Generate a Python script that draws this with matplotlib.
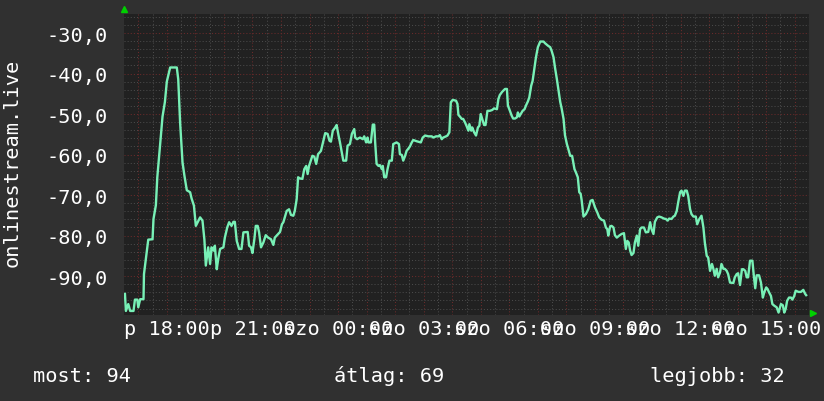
import numpy as np
import matplotlib.pyplot as plt

# minutes since friday 16:30 and rank (plotted as negative value)
t1 = [2, 4, 9, 13, 20, 23, 28, 30, 34, 41, 42, 46, 51, 60, 62, 67, 70, 76, 81, 86,
      90, 97, 111, 114, 118, 123, 127, 132, 139, 142, 147, 151, 160, 165, 169, 172, 177, 181, 184, 188,
      191, 195, 198, 202, 209, 212, 217, 221, 226, 230]
r1 = [94.4, 98.6, 96.9, 98.6, 98.6, 95.8, 95.8, 97.7, 95.7, 95.7, 89.5, 85.8, 81.0, 80.9, 75.9, 72.5, 65.6, 57.4, 50.6, 47.0,
      42.0, 38.5, 38.5, 41.4, 52.2, 61.9, 65.2, 68.8, 69.3, 70.8, 72.6, 77.6, 75.5, 76.3, 81.0, 87.4, 82.9, 87.0, 82.9, 83.7,
      82.5, 88.3, 85.8, 83.3, 82.9, 80.5, 78.0, 76.7, 77.6, 76.6]

t2 = [233, 237, 242, 247, 251, 260, 263, 267, 270, 274, 277, 281, 284, 288, 293, 298, 303, 309, 314, 317,
      324, 328, 332, 335, 338, 342, 347, 351, 356, 359, 363, 366, 370, 375, 379, 383, 386, 389, 396, 400,
      404, 408, 414, 419, 423, 428, 432, 435, 439, 444, 447, 451, 454, 458, 461, 467, 470, 475, 479, 484]
r2 = [76.6, 81.3, 83.3, 83.3, 79.2, 79.1, 82.5, 82.9, 84.3, 80.9, 77.6, 77.6, 79.2, 82.9, 81.7, 79.9, 80.5, 80.9, 82.3, 80.5,
      79.6, 79.1, 77.2, 76.7, 75.5, 73.9, 73.5, 74.9, 75.1, 73.9, 71.0, 65.6, 65.9, 66.0, 63.6, 62.8, 64.8, 62.8, 60.3, 60.5,
      62.3, 59.9, 59.1, 56.6, 54.7, 54.9, 56.6, 56.8, 54.1, 53.3, 52.7, 55.3, 57.0, 59.5, 61.5, 61.5, 57.8, 57.4, 54.9, 53.7]

t3 = [486, 490, 496, 502, 505, 509, 512, 514, 519, 523, 526, 528, 531, 535, 538, 542, 544, 547, 551, 554,
      558, 563, 566, 573, 578, 580, 584, 587, 591, 594, 598, 601, 605, 608, 615, 624, 628, 633, 640, 647,
      650, 656, 661, 664, 668, 671, 677, 680, 684, 687, 691, 698, 701, 703, 706, 710, 713, 717, 720, 724]
r3 = [55.8, 56.2, 55.8, 56.2, 55.5, 57.0, 55.8, 57.0, 57.0, 52.6, 52.6, 57.0, 62.3, 62.8, 62.6, 63.6, 62.8, 65.6, 65.6, 63.6,
      61.5, 61.5, 57.4, 57.0, 57.4, 59.9, 60.1, 61.5, 60.3, 59.1, 58.5, 58.0, 57.0, 56.4, 56.7, 57.0, 55.8, 55.3, 55.5, 55.5,
      55.8, 55.5, 55.5, 55.2, 56.2, 55.8, 55.5, 55.3, 54.5, 47.1, 46.5, 46.7, 47.5, 50.2, 50.6, 51.2, 51.2, 52.1, 52.9, 54.1]

t4 = [726, 730, 732, 736, 740, 744, 747, 750, 753, 757, 760, 764, 769, 774, 778, 784, 787, 790, 795, 801,
      805, 807, 810, 815, 818, 822, 826, 828, 831, 835, 838, 842, 845, 849, 852, 856, 859, 863, 866, 870,
      875, 882, 885, 891, 896, 899, 903, 906, 910, 913, 917, 920, 924, 927, 931, 934, 938, 942, 947, 950,
      954, 957, 960, 962, 966]
r4 = [52.5, 54.1, 53.3, 54.5, 55.3, 53.3, 52.9, 50.0, 51.2, 52.7, 52.7, 49.2, 49.2, 49.0, 48.6, 48.8, 46.3, 45.3, 44.5, 43.8,
      43.8, 47.9, 48.8, 50.4, 51.1, 51.1, 50.8, 49.6, 50.6, 49.8, 49.2, 48.8, 47.9, 46.9, 45.9, 43.0, 41.8, 38.5, 36.0, 33.5,
      32.1, 32.1, 32.5, 33.1, 33.5, 34.4, 36.0, 38.5, 41.4, 43.8, 47.0, 48.6, 51.2, 55.2, 57.4, 58.6, 60.3, 60.3, 63.6, 64.4,
      65.6, 69.3, 69.7, 71.2, 75.3]

t5 = [971, 976, 981, 985, 990, 995, 999, 1004, 1009, 1013, 1016, 1018, 1022, 1025, 1029, 1032, 1036, 1041, 1046, 1051,
      1055, 1058, 1061, 1064, 1067, 1071, 1074, 1078, 1081, 1085, 1088, 1093, 1097, 1102, 1106, 1109, 1113, 1116, 1121, 1125,
      1130, 1135, 1139, 1143, 1146, 1151, 1155, 1158, 1162, 1165, 1169, 1172, 1176, 1179, 1183, 1186, 1190, 1193, 1197, 1202,
      1205, 1209]
r5 = [74.7, 73.5, 71.4, 71.2, 73.0, 74.3, 75.5, 76.1, 76.3, 78.0, 78.4, 80.0, 77.7, 77.6, 78.0, 79.9, 80.5, 80.0, 79.6, 79.4,
      83.3, 81.3, 81.7, 83.7, 84.8, 84.3, 81.7, 80.0, 82.5, 78.4, 78.0, 78.0, 79.2, 79.1, 76.7, 78.4, 79.6, 76.6, 75.5, 75.3,
      75.5, 75.8, 75.9, 76.3, 75.8, 75.9, 75.3, 75.1, 73.9, 71.8, 69.3, 68.9, 70.2, 68.9, 68.9, 70.2, 73.5, 74.7, 75.3, 75.3,
      77.2, 76.0]

t6 = [1214, 1218, 1221, 1225, 1228, 1232, 1236, 1239, 1242, 1246, 1249, 1253, 1256, 1260, 1263, 1267, 1270, 1274, 1281, 1284,
      1288, 1291, 1295, 1299, 1302, 1306, 1309, 1312, 1316, 1321, 1324, 1327, 1330, 1335, 1339, 1343, 1346, 1350, 1353, 1356,
      1360, 1363, 1367, 1372, 1376, 1379, 1381, 1385, 1388, 1391, 1394, 1398, 1402, 1405, 1409, 1412, 1418, 1423, 1428, 1432,
      1434]
r6 = [75.1, 78.0, 81.7, 85.0, 85.4, 88.7, 87.0, 88.2, 89.9, 88.2, 90.3, 89.1, 87.0, 88.2, 88.2, 88.7, 89.5, 91.6, 91.7, 90.3,
      89.5, 89.3, 92.2, 88.3, 88.3, 88.7, 90.3, 90.3, 86.2, 86.2, 89.9, 93.0, 89.8, 89.8, 91.6, 95.3, 94.0, 92.8, 93.2, 94.0,
      94.9, 96.9, 97.3, 97.7, 99.0, 97.7, 96.9, 97.2, 99.0, 98.1, 96.1, 95.3, 95.3, 95.8, 94.9, 93.6, 93.9, 93.9, 93.4, 94.4,
      94.7]

times = np.array(t1 + t2 + t3 + t4 + t5 + t6)
ranks = np.array(r1 + r2 + r3 + r4 + r5 + r6)

label_min = [90, 270, 450, 630, 810, 990, 1170, 1350]
labels = ['p 18:00', 'p 21:00', 'szo 00:00', 'szo 03:00', 'szo 06:00',
          'szo 09:00', 'szo 12:00', 'szo 15:00']
yticks = [-30, -40, -50, -60, -70, -80, -90]

BG = '#303030'
FONT = 'DejaVu Sans Mono'
FS = 14.6
DOT = (0, (1, 2))

fig = plt.figure(figsize=(8.24, 4.02), dpi=100, facecolor=BG)
ax = fig.add_axes([124 / 824, 86 / 402, 685 / 824, 301 / 402])
ax.set_facecolor('#212121')
ax.set_xlim(0, 1440)
ax.set_ylim(-99.6, -25.3)

# grid: minor every 30 min / 2 units, major every hour / 10 units
for m in range(60, 1440, 60):
    ax.axvline(m, color='#4a4a4a', lw=0.75, ls=DOT, zorder=1)
for m in range(30, 1440, 60):
    ax.axvline(m, color='#6a2a2a', lw=0.75, ls=DOT, zorder=1)
for v in range(-98, -25, 2):
    if v % 10 != 0:
        ax.axhline(v, color='#4a4a4a', lw=0.75, ls=DOT, zorder=1)
for v in yticks:
    ax.axhline(v, color='#6a2a2a', lw=0.75, ls=DOT, zorder=1)

ax.plot(times, -ranks, color='#78f0b6', lw=1.7, zorder=3)

for s in ax.spines.values():
    s.set_visible(False)
ax.set_xticks(label_min)
ax.set_xticklabels(labels)
ax.set_yticks(yticks)
ax.set_yticklabels(['%d,0' % v for v in yticks])
ax.tick_params(axis='x', length=0, pad=3, labelcolor='white', labelsize=FS)
ax.tick_params(axis='y', length=0, pad=11.5, labelcolor='white', labelsize=FS)
for lab in ax.get_xticklabels() + ax.get_yticklabels():
    lab.set_fontfamily(FONT)

# arrows at axis ends
ax.plot([0], [1.017], marker='^', color='#00d000', ms=4, transform=ax.transAxes, clip_on=False)
ax.plot([1.006], [0.006], marker='>', color='#00d000', ms=4, transform=ax.transAxes, clip_on=False)

fig.text(12 / 824, 1 - 163 / 402, 'onlinestream.live', rotation=90, color='white',
         family=FONT, fontsize=FS, ha='center', va='center')
fig.text(33 / 824, 1 - 382 / 402, 'most: 94', color='white', family=FONT, fontsize=FS, va='baseline')
fig.text(334 / 824, 1 - 382 / 402, 'átlag: 69', color='white', family=FONT, fontsize=FS, va='baseline')
fig.text(650 / 824, 1 - 382 / 402, 'legjobb: 32', color='white', family=FONT, fontsize=FS, va='baseline')

fig.savefig('out.png', dpi=100, facecolor=BG)
